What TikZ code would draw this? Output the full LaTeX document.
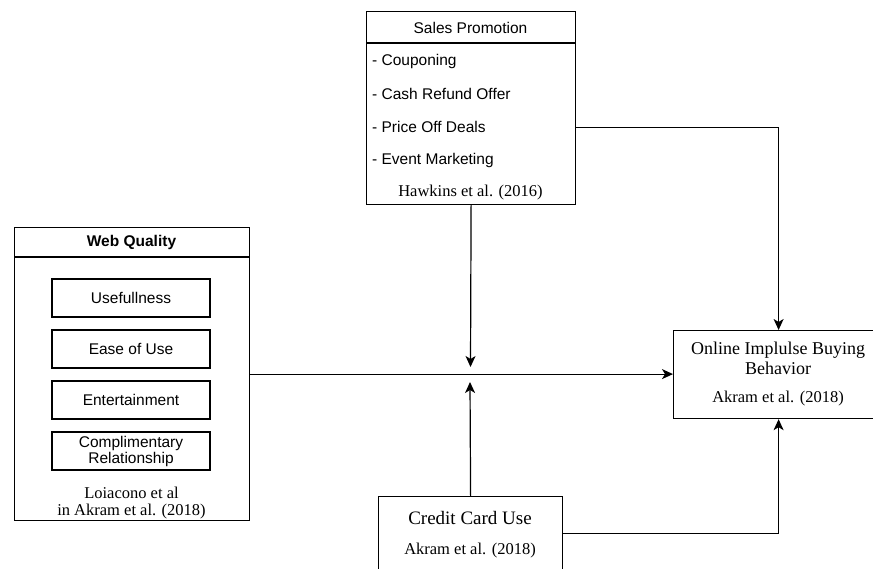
\documentclass[tikz,border=0pt]{standalone}
\usepackage{fontspec}
\setmainfont{Liberation Serif}
\setsansfont{Liberation Sans}
\usetikzlibrary{arrows.meta,calc}
\begin{document}
\begin{tikzpicture}[x=1pt,y=-1pt,
  box/.style={draw,line width=1.2pt,inner sep=0pt},
  sbox/.style={draw,line width=1.2pt,inner sep=0pt,minimum width=158pt,minimum height=38pt,font=\sffamily\fontsize{15.5}{16}\selectfont,align=center},
  stxt/.style={inner sep=0pt,font=\sffamily\fontsize{15.5}{16}\selectfont},
  rtxt/.style={inner sep=0pt,font=\fontsize{16.5}{17}\selectfont,align=center},
  btxt/.style={inner sep=0pt,font=\fontsize{18}{20}\selectfont,align=center},
  arr/.style={line width=1.2pt,-{Stealth[length=11pt,width=10pt,inset=3pt]}},
  ln/.style={line width=1.2pt}]
\useasboundingbox (0,0) rectangle (873,569);
\fill[white] (0,0) rectangle (873,569);
% Sales Promotion
\node[box,minimum width=209pt,minimum height=193pt,anchor=north west] (sp) at (366,11) {};
\draw[ln] (366,43) -- (575,43);
\node[stxt] (spt) at (470.5,28) {Sales Promotion};
\node[stxt,anchor=west] (sp1) at (372,61) {- Couponing};
\node[stxt,anchor=west] (sp2) at (372,94) {- Cash Refund Offer};
\node[stxt,anchor=west] (sp3) at (372,127) {- Price Off Deals};
\node[stxt,anchor=west] (sp4) at (372,160) {- Event Marketing};
\node[rtxt] (spc) at (470.5,193) {Hawkins et al. (2016)};
% Web Quality
\node[box,minimum width=235pt,minimum height=293pt,anchor=north west] (wq) at (14,227) {};
\draw[ln] (14,257) -- (249,257);
\node[stxt,font=\sffamily\bfseries\fontsize{15.5}{16}\selectfont] (wqt) at (131.5,242) {Web Quality};
\node[sbox] (u) at (131,298) {Usefullness};
\node[sbox] (e) at (131,349) {Ease of Use};
\node[sbox] (en) at (131,400) {Entertainment};
\node[sbox] (c) at (131,451) {Complimentary\\Relationship};
\node[rtxt] (wqc) at (131.5,503) {Loiacono et al\\in Akram et al. (2018)};
% Online Impulse Buying Behavior
\node[box,minimum width=210pt,minimum height=88pt,anchor=north west] (oib) at (673,330) {};
\node[btxt] (oibt) at (778,358) {Online Implulse Buying\\Behavior};
\node[rtxt] (oibc) at (778,399) {Akram et al. (2018)};
% Credit Card Use
\node[box,minimum width=184pt,minimum height=100pt,anchor=north west] (cc) at (378,496) {};
\node[btxt,font=\fontsize{19}{20}\selectfont] (cct) at (470,518) {Credit Card Use};
\node[rtxt] (ccc) at (470,551) {Akram et al. (2018)};
% junction points
\coordinate (j1) at (470.5,367);
\coordinate (j2) at (470,382);
% connectors
\draw[arr] ([yshift=-19.5pt]sp.east) -| (oib.north);
\draw[arr] (wq.east) -- (wq.east -| oib.west);
\draw[arr] (sp.south) -- (j1);
\draw[arr] (cc.north) -- (j2);
\draw[arr] ([yshift=13pt]cc.east) -| (oib.south);
\end{tikzpicture}
\end{document}
